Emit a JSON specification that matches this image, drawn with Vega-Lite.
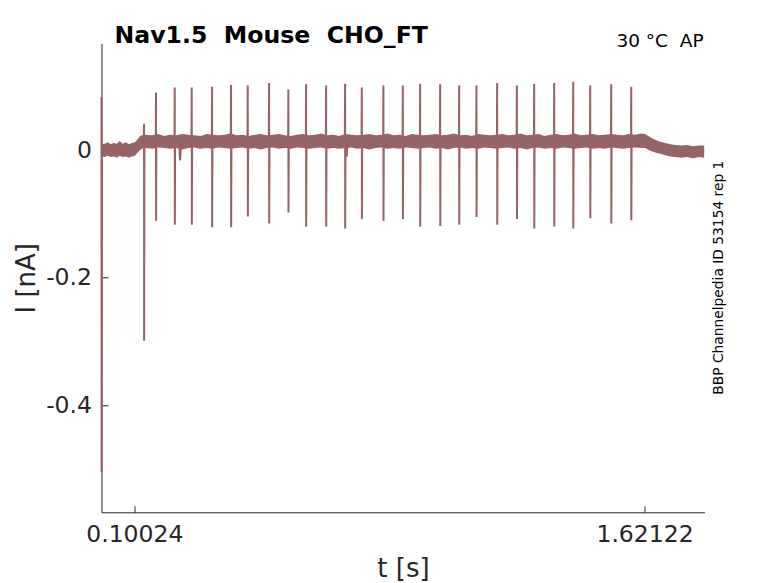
{
  "$schema": "https://vega.github.io/schema/vega-lite/v6.json",
  "width": 603,
  "height": 469,
  "autosize": {"type": "none"},
  "padding": {"left": 101.5, "top": 43.3, "right": 73.5, "bottom": 70.7},
  "background": "white",
  "datasets": {
    "band": [
      {"t": 0.003, "lo": -0.010, "hi": 0.009},
      {"t": 0.012, "lo": -0.011, "hi": 0.010},
      {"t": 0.021, "lo": -0.009, "hi": 0.012},
      {"t": 0.030, "lo": -0.011, "hi": 0.009},
      {"t": 0.039, "lo": -0.010, "hi": 0.011},
      {"t": 0.048, "lo": -0.012, "hi": 0.010},
      {"t": 0.057, "lo": -0.009, "hi": 0.014},
      {"t": 0.066, "lo": -0.011, "hi": 0.010},
      {"t": 0.075, "lo": -0.010, "hi": 0.012},
      {"t": 0.084, "lo": -0.012, "hi": 0.009},
      {"t": 0.093, "lo": -0.010, "hi": 0.011},
      {"t": 0.102, "lo": -0.009, "hi": 0.012},
      {"t": 0.110, "lo": -0.004, "hi": 0.017},
      {"t": 0.118, "lo": 0.000, "hi": 0.022},
      {"t": 0.126, "lo": 0.003, "hi": 0.024},
      {"t": 0.135, "lo": 0.003, "hi": 0.024},
      {"t": 0.153, "lo": 0.002, "hi": 0.023},
      {"t": 0.171, "lo": 0.004, "hi": 0.025},
      {"t": 0.189, "lo": 0.003, "hi": 0.022},
      {"t": 0.207, "lo": 0.002, "hi": 0.024},
      {"t": 0.225, "lo": 0.003, "hi": 0.023},
      {"t": 0.243, "lo": 0.001, "hi": 0.025},
      {"t": 0.261, "lo": 0.003, "hi": 0.024},
      {"t": 0.279, "lo": 0.004, "hi": 0.023},
      {"t": 0.297, "lo": 0.002, "hi": 0.022},
      {"t": 0.315, "lo": 0.003, "hi": 0.025},
      {"t": 0.333, "lo": 0.002, "hi": 0.024},
      {"t": 0.351, "lo": 0.004, "hi": 0.023},
      {"t": 0.369, "lo": 0.003, "hi": 0.024},
      {"t": 0.387, "lo": 0.002, "hi": 0.026},
      {"t": 0.405, "lo": 0.003, "hi": 0.023},
      {"t": 0.423, "lo": 0.004, "hi": 0.024},
      {"t": 0.441, "lo": 0.002, "hi": 0.022},
      {"t": 0.459, "lo": 0.003, "hi": 0.024},
      {"t": 0.477, "lo": 0.001, "hi": 0.025},
      {"t": 0.495, "lo": 0.003, "hi": 0.023},
      {"t": 0.513, "lo": 0.004, "hi": 0.024},
      {"t": 0.531, "lo": 0.002, "hi": 0.025},
      {"t": 0.549, "lo": 0.003, "hi": 0.023},
      {"t": 0.567, "lo": 0.002, "hi": 0.022},
      {"t": 0.585, "lo": 0.004, "hi": 0.024},
      {"t": 0.603, "lo": 0.003, "hi": 0.025},
      {"t": 0.621, "lo": 0.002, "hi": 0.023},
      {"t": 0.639, "lo": 0.003, "hi": 0.024},
      {"t": 0.657, "lo": 0.004, "hi": 0.026},
      {"t": 0.675, "lo": 0.002, "hi": 0.023},
      {"t": 0.693, "lo": 0.003, "hi": 0.024},
      {"t": 0.711, "lo": 0.002, "hi": 0.022},
      {"t": 0.729, "lo": 0.003, "hi": 0.025},
      {"t": 0.747, "lo": 0.004, "hi": 0.024},
      {"t": 0.765, "lo": 0.002, "hi": 0.023},
      {"t": 0.783, "lo": 0.003, "hi": 0.024},
      {"t": 0.801, "lo": 0.001, "hi": 0.025},
      {"t": 0.819, "lo": 0.003, "hi": 0.023},
      {"t": 0.837, "lo": 0.004, "hi": 0.024},
      {"t": 0.855, "lo": 0.002, "hi": 0.026},
      {"t": 0.873, "lo": 0.003, "hi": 0.023},
      {"t": 0.891, "lo": 0.002, "hi": 0.024},
      {"t": 0.909, "lo": 0.004, "hi": 0.022},
      {"t": 0.927, "lo": 0.003, "hi": 0.025},
      {"t": 0.945, "lo": 0.002, "hi": 0.024},
      {"t": 0.963, "lo": 0.003, "hi": 0.023},
      {"t": 0.981, "lo": 0.004, "hi": 0.024},
      {"t": 0.999, "lo": 0.002, "hi": 0.025},
      {"t": 1.017, "lo": 0.003, "hi": 0.023},
      {"t": 1.035, "lo": 0.001, "hi": 0.024},
      {"t": 1.053, "lo": 0.003, "hi": 0.026},
      {"t": 1.071, "lo": 0.004, "hi": 0.023},
      {"t": 1.089, "lo": 0.002, "hi": 0.024},
      {"t": 1.107, "lo": 0.003, "hi": 0.022},
      {"t": 1.125, "lo": 0.002, "hi": 0.025},
      {"t": 1.143, "lo": 0.004, "hi": 0.024},
      {"t": 1.161, "lo": 0.003, "hi": 0.023},
      {"t": 1.179, "lo": 0.002, "hi": 0.024},
      {"t": 1.197, "lo": 0.003, "hi": 0.025},
      {"t": 1.215, "lo": 0.004, "hi": 0.023},
      {"t": 1.233, "lo": 0.002, "hi": 0.024},
      {"t": 1.251, "lo": 0.003, "hi": 0.026},
      {"t": 1.269, "lo": 0.001, "hi": 0.023},
      {"t": 1.287, "lo": 0.003, "hi": 0.024},
      {"t": 1.305, "lo": 0.004, "hi": 0.025},
      {"t": 1.323, "lo": 0.002, "hi": 0.022},
      {"t": 1.341, "lo": 0.003, "hi": 0.024},
      {"t": 1.359, "lo": 0.002, "hi": 0.025},
      {"t": 1.377, "lo": 0.004, "hi": 0.023},
      {"t": 1.395, "lo": 0.003, "hi": 0.024},
      {"t": 1.413, "lo": 0.002, "hi": 0.026},
      {"t": 1.431, "lo": 0.003, "hi": 0.023},
      {"t": 1.449, "lo": 0.004, "hi": 0.024},
      {"t": 1.467, "lo": 0.002, "hi": 0.025},
      {"t": 1.485, "lo": 0.003, "hi": 0.023},
      {"t": 1.503, "lo": 0.002, "hi": 0.024},
      {"t": 1.521, "lo": 0.004, "hi": 0.025},
      {"t": 1.539, "lo": 0.003, "hi": 0.024},
      {"t": 1.557, "lo": 0.002, "hi": 0.023},
      {"t": 1.575, "lo": 0.003, "hi": 0.025},
      {"t": 1.593, "lo": 0.004, "hi": 0.024},
      {"t": 1.611, "lo": 0.003, "hi": 0.026},
      {"t": 1.623, "lo": 0.003, "hi": 0.025},
      {"t": 1.638, "lo": -0.001, "hi": 0.020},
      {"t": 1.653, "lo": -0.004, "hi": 0.016},
      {"t": 1.668, "lo": -0.006, "hi": 0.013},
      {"t": 1.683, "lo": -0.008, "hi": 0.011},
      {"t": 1.698, "lo": -0.010, "hi": 0.009},
      {"t": 1.713, "lo": -0.011, "hi": 0.008},
      {"t": 1.730, "lo": -0.012, "hi": 0.007},
      {"t": 1.748, "lo": -0.011, "hi": 0.008},
      {"t": 1.766, "lo": -0.013, "hi": 0.006},
      {"t": 1.784, "lo": -0.011, "hi": 0.007},
      {"t": 1.799, "lo": -0.012, "hi": 0.007}
    ],
    "trace": [
      {"t": 0.0024, "i": 0.083},
      {"t": 0.0026, "i": -0.505},
      {"t": 0.0034, "i": 0.0},
      {"t": 0.102, "i": 0.0},
      {"t": 0.126, "i": 0.013},
      {"t": 0.1284, "i": 0.013}, {"t": 0.1292, "i": 0.041}, {"t": 0.1295, "i": -0.299}, {"t": 0.1303, "i": 0.013},
      {"t": 0.1641, "i": 0.013}, {"t": 0.1649, "i": 0.090}, {"t": 0.1652, "i": -0.111}, {"t": 0.1660, "i": 0.013},
      {"t": 0.2199, "i": 0.013}, {"t": 0.2207, "i": 0.098}, {"t": 0.2210, "i": -0.117}, {"t": 0.2218, "i": 0.013},
      {"t": 0.2345, "i": 0.008}, {"t": 0.2360, "i": -0.014}, {"t": 0.2368, "i": -0.016}, {"t": 0.2395, "i": 0.008},
      {"t": 0.2706, "i": 0.013}, {"t": 0.2714, "i": 0.098}, {"t": 0.2717, "i": -0.117}, {"t": 0.2725, "i": 0.013},
      {"t": 0.3312, "i": 0.013}, {"t": 0.3320, "i": 0.099}, {"t": 0.3323, "i": -0.121}, {"t": 0.3331, "i": 0.013},
      {"t": 0.3878, "i": 0.013}, {"t": 0.3886, "i": 0.102}, {"t": 0.3889, "i": -0.121}, {"t": 0.3897, "i": 0.013},
      {"t": 0.4376, "i": 0.013}, {"t": 0.4384, "i": 0.101}, {"t": 0.4387, "i": -0.104}, {"t": 0.4395, "i": 0.013},
      {"t": 0.5012, "i": 0.013}, {"t": 0.5020, "i": 0.105}, {"t": 0.5023, "i": -0.115}, {"t": 0.5031, "i": 0.013},
      {"t": 0.5587, "i": 0.013}, {"t": 0.5595, "i": 0.095}, {"t": 0.5598, "i": -0.098}, {"t": 0.5606, "i": 0.013},
      {"t": 0.6115, "i": 0.013}, {"t": 0.6123, "i": 0.103}, {"t": 0.6126, "i": -0.120}, {"t": 0.6134, "i": 0.013},
      {"t": 0.6712, "i": 0.013}, {"t": 0.6720, "i": 0.101}, {"t": 0.6723, "i": -0.120}, {"t": 0.6731, "i": 0.013},
      {"t": 0.7278, "i": 0.013}, {"t": 0.7286, "i": 0.104}, {"t": 0.7289, "i": -0.123}, {"t": 0.7297, "i": 0.013},
      {"t": 0.7330, "i": 0.005}, {"t": 0.7337, "i": -0.010}, {"t": 0.7344, "i": 0.005},
      {"t": 0.7776, "i": 0.013}, {"t": 0.7784, "i": 0.098}, {"t": 0.7787, "i": -0.108}, {"t": 0.7795, "i": 0.013},
      {"t": 0.8420, "i": 0.013}, {"t": 0.8428, "i": 0.101}, {"t": 0.8431, "i": -0.111}, {"t": 0.8439, "i": 0.013},
      {"t": 0.8999, "i": 0.013}, {"t": 0.9007, "i": 0.101}, {"t": 0.9010, "i": -0.108}, {"t": 0.9018, "i": 0.013},
      {"t": 0.9515, "i": 0.013}, {"t": 0.9523, "i": 0.104}, {"t": 0.9526, "i": -0.120}, {"t": 0.9534, "i": 0.013},
      {"t": 1.0112, "i": 0.013}, {"t": 1.0120, "i": 0.103}, {"t": 1.0123, "i": -0.119}, {"t": 1.0131, "i": 0.013},
      {"t": 1.0678, "i": 0.013}, {"t": 1.0686, "i": 0.101}, {"t": 1.0689, "i": -0.117}, {"t": 1.0697, "i": 0.013},
      {"t": 1.1194, "i": 0.013}, {"t": 1.1202, "i": 0.101}, {"t": 1.1205, "i": -0.105}, {"t": 1.1213, "i": 0.013},
      {"t": 1.1811, "i": 0.013}, {"t": 1.1819, "i": 0.105}, {"t": 1.1822, "i": -0.117}, {"t": 1.1830, "i": 0.013},
      {"t": 1.2399, "i": 0.013}, {"t": 1.2407, "i": 0.101}, {"t": 1.2410, "i": -0.108}, {"t": 1.2418, "i": 0.013},
      {"t": 1.2915, "i": 0.013}, {"t": 1.2923, "i": 0.104}, {"t": 1.2926, "i": -0.123}, {"t": 1.2934, "i": 0.013},
      {"t": 1.3511, "i": 0.013}, {"t": 1.3519, "i": 0.105}, {"t": 1.3522, "i": -0.120}, {"t": 1.3530, "i": 0.013},
      {"t": 1.4078, "i": 0.013}, {"t": 1.4086, "i": 0.107}, {"t": 1.4089, "i": -0.123}, {"t": 1.4097, "i": 0.013},
      {"t": 1.4585, "i": 0.013}, {"t": 1.4593, "i": 0.101}, {"t": 1.4596, "i": -0.107}, {"t": 1.4604, "i": 0.013},
      {"t": 1.5211, "i": 0.013}, {"t": 1.5219, "i": 0.103}, {"t": 1.5222, "i": -0.115}, {"t": 1.5230, "i": 0.013},
      {"t": 1.5808, "i": 0.013}, {"t": 1.5816, "i": 0.099}, {"t": 1.5819, "i": -0.110}, {"t": 1.5827, "i": 0.013},
      {"t": 1.623, "i": 0.013},
      {"t": 1.668, "i": 0.003},
      {"t": 1.713, "i": -0.002},
      {"t": 1.799, "i": -0.002}
    ]
  },
  "layer": [
    {
      "data": {"name": "band"},
      "mark": {"type": "area", "color": "#966464", "opacity": 1},
      "encoding": {
        "x": {
          "field": "t",
          "type": "quantitative",
          "scale": {"domain": [0.0024, 1.8], "nice": false, "zero": false},
          "axis": {
            "values": [0.10024, 1.62122],
            "format": ".5f",
            "grid": false,
            "labelFont": "DejaVu Sans",
            "labelFontSize": 23.5,
            "labelColor": "#262626",
            "labelPadding": 16.5,
            "tickSize": -6.5,
            "tickColor": "#262626",
            "domainColor": "#262626",
            "title": "t [s]",
            "titleFont": "DejaVu Sans",
            "titleFontSize": 26,
            "titleFontWeight": "normal",
            "titleColor": "#262626",
            "titlePadding": 10
          }
        },
        "y": {
          "field": "hi",
          "type": "quantitative",
          "scale": {"domain": [-0.5676, 0.1672], "nice": false, "zero": false},
          "axis": {
            "values": [-0.4, -0.2, 0],
            "labelExpr": "'' + datum.value",
            "grid": false,
            "labelFont": "DejaVu Sans",
            "labelFontSize": 23.5,
            "labelColor": "#262626",
            "labelPadding": 16.5,
            "tickSize": -6.5,
            "tickColor": "#262626",
            "domainColor": "#262626",
            "title": "I [nA]",
            "titleFont": "DejaVu Sans",
            "titleFontSize": 26,
            "titleFontWeight": "normal",
            "titleColor": "#262626",
            "titlePadding": 6
          }
        },
        "y2": {"field": "lo"}
      }
    },
    {
      "data": {"name": "trace"},
      "mark": {"type": "line", "color": "#966464", "strokeWidth": 2},
      "encoding": {
        "x": {"field": "t", "type": "quantitative"},
        "y": {"field": "i", "type": "quantitative"}
      }
    },
    {
      "data": {"values": [{"label": "Nav1.5\u00a0\u00a0Mouse\u00a0\u00a0CHO_FT"}]},
      "mark": {
        "type": "text",
        "align": "left",
        "baseline": "alphabetic",
        "dx": 13,
        "font": "DejaVu Sans",
        "fontSize": 23.6,
        "fontWeight": "bold",
        "color": "black"
      },
      "encoding": {
        "x": {"datum": 0.0024, "type": "quantitative"},
        "y": {"datum": 0.1681, "type": "quantitative"},
        "text": {"field": "label"}
      }
    },
    {
      "data": {"values": [{"label": "30 \u00b0C\u00a0\u00a0AP"}]},
      "mark": {
        "type": "text",
        "align": "right",
        "baseline": "alphabetic",
        "font": "DejaVu Sans",
        "fontSize": 18.5,
        "color": "black"
      },
      "encoding": {
        "x": {"datum": 1.7972, "type": "quantitative"},
        "y": {"datum": 0.1618, "type": "quantitative"},
        "text": {"field": "label"}
      }
    },
    {
      "data": {"values": [{"label": "BBP Channelpedia ID 53154 rep 1"}]},
      "mark": {
        "type": "text",
        "align": "center",
        "baseline": "alphabetic",
        "angle": 270,
        "dy": 18,
        "font": "DejaVu Sans",
        "fontSize": 13.8,
        "color": "black"
      },
      "encoding": {
        "x": {"datum": 1.8, "type": "quantitative"},
        "y": {"datum": -0.2, "type": "quantitative"},
        "text": {"field": "label"}
      }
    }
  ],
  "config": {
    "view": {"stroke": null},
    "font": "DejaVu Sans"
  }
}
